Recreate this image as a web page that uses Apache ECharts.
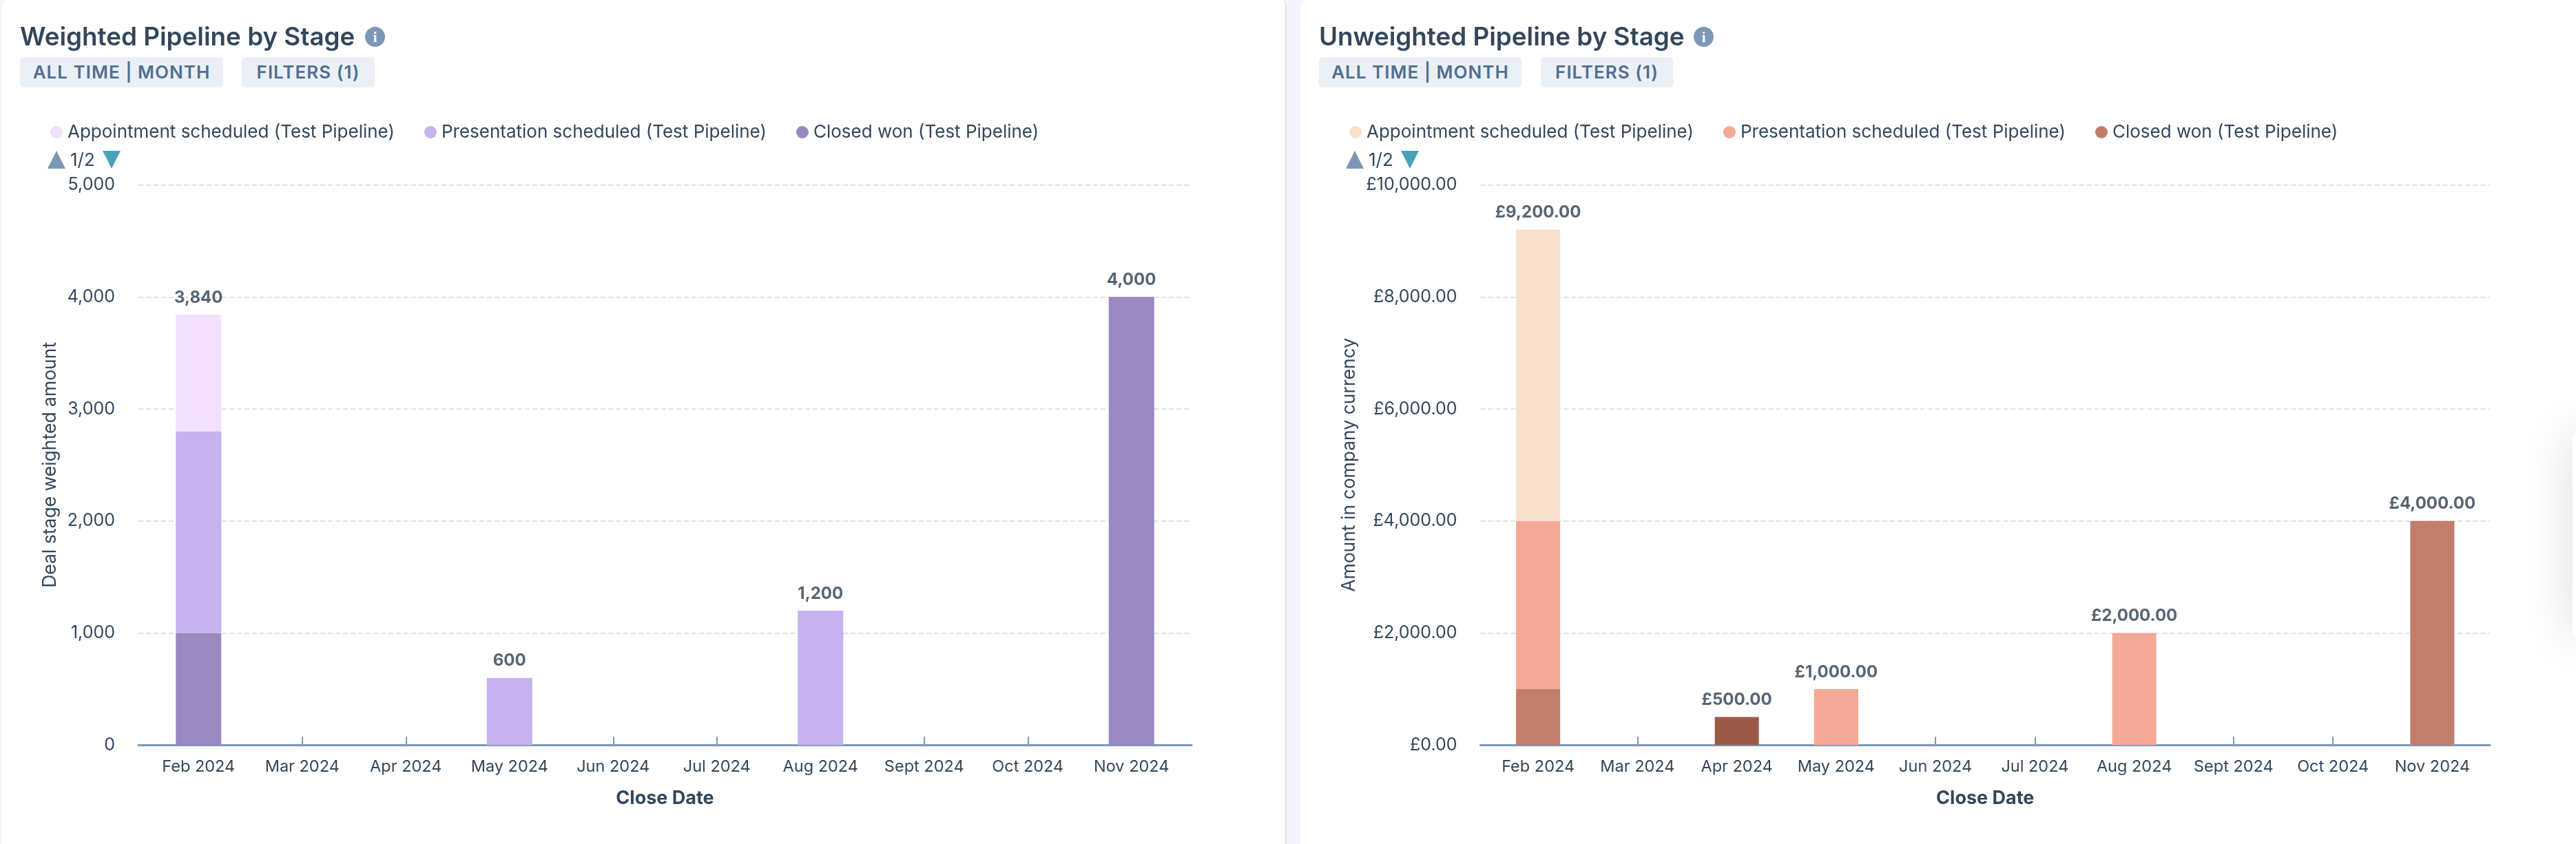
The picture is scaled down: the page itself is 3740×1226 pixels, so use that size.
<!DOCTYPE html>
<html>
<head>
<meta charset="utf-8">
<title>Pipeline by Stage</title>
<script src="https://cdn.jsdelivr.net/npm/echarts@6/dist/echarts.min.js"></script>
<style>
    html, body { margin: 0; padding: 0; background: #f4f5fa; overflow: hidden; }
    body { width: 3740px; height: 1226px; position: relative; font-family: Inter, sans-serif; color: #33475b; }
    .panel { position: absolute; top: 0; height: 1226px; background: #fff; overflow: hidden; }
    .panel-left { left: 3px; width: 1863px; border-right: 2px solid #dfe1ee; border-radius: 8px 8px 0 0; }
    .panel-right { left: 1888px; width: 1852px; border-radius: 8px 0 0 0; }
    .chart { position: absolute; left: 0; top: 0; width: 100%; height: 100%; }
    .title { position: absolute; top: 30px; font-size: 36.8px; line-height: 46px; font-weight: 600; white-space: nowrap; }
    .info { position: absolute; top: 39px; width: 29px; height: 29px; border-radius: 50%; background: #7c98b6; color: #fff; font: 700 22px/29px "Liberation Serif", serif; text-align: center; }
    .chip { position: absolute; top: 83px; height: 44px; line-height: 44px; background: #eaf0f6; border-radius: 5px; color: #516f90; font-size: 26px; font-weight: 600; letter-spacing: 1px; text-align: center; white-space: nowrap; }
    .nav { position: absolute; top: 219px; height: 27px; }
    .tri { position: absolute; top: 0; width: 0; height: 0; border-left: 13px solid transparent; border-right: 13px solid transparent; }
    .tri.up { border-bottom: 26px solid #7c98b6; }
    .tri.down { border-top: 26px solid #48a3b9; }
    .nav span { position: absolute; top: -3px; left: 33px; font-size: 26px; line-height: 32px; }
    .popup { position: absolute; left: 3735px; top: 628px; width: 40px; height: 298px; background: #fff; border-radius: 8px; box-shadow: 0 0 70px rgba(0,0,0,0.16); }
</style>
</head>
<body>
<script>
    // 月份类目
    const months = ['Feb 2024', 'Mar 2024', 'Apr 2024', 'May 2024', 'Jun 2024', 'Jul 2024', 'Aug 2024', 'Sept 2024', 'Oct 2024', 'Nov 2024'];

    const appointmentName = 'Appointment scheduled (Test Pipeline)';
    const presentationName = 'Presentation scheduled (Test Pipeline)';
    const closedWonName = 'Closed won (Test Pipeline)';
    const legendNames = [appointmentName, presentationName, closedWonName];

    // Weighted
    const weightedAppointment = [1040, null, null, null, null, null, null, null, null, null];
    const weightedPresentation = [1800, null, null, 600, null, null, 1200, null, null, null];
    const weightedClosedWon = [1000, null, null, null, null, null, null, null, null, 4000];
    const weightedTotals = [3840, null, null, 600, null, null, 1200, null, null, 4000];
    const weightedTicks = [0, 1000, 2000, 3000, 4000, 5000];

    // Unweighted
    const unweightedAppointment = [5200, null, null, null, null, null, null, null, null, null];
    const unweightedPresentation = [3000, null, null, 1000, null, null, 2000, null, null, null];
    const unweightedClosedWon = [1000, null, null, null, null, null, null, null, null, 4000];
    const unweightedOtherStage = [null, null, 500, null, null, null, null, null, null, null];
    const unweightedTotals = [9200, null, 500, 1000, null, null, 2000, null, null, 4000];
    const unweightedTicks = [0, 2000, 4000, 6000, 8000, 10000];

    const FONT = 'Inter, sans-serif';
    const TEXT = '#33475b';

    function addDiv(parent, className, left, width, text) {
        const el = document.createElement('div');
        el.className = className;
        el.style.left = left + 'px';
        if (width) el.style.width = width + 'px';
        if (text) el.textContent = text;
        parent.appendChild(el);
        return el;
    }

    function buildPanel(cfg) {
        const panel = document.createElement('div');
        panel.className = 'panel ' + cfg.panelClass;
        document.body.appendChild(panel);

        const chartDiv = addDiv(panel, 'chart', 0);

        // 标题和筛选标签
        addDiv(panel, 'title', cfg.titleX, 0, cfg.title);
        addDiv(panel, 'info', cfg.infoX, 0, 'i');
        addDiv(panel, 'chip', cfg.chipX[0], cfg.chipW[0], 'ALL TIME | MONTH');
        addDiv(panel, 'chip', cfg.chipX[1], cfg.chipW[1], 'FILTERS (1)');

        // 图例翻页
        const nav = addDiv(panel, 'nav', cfg.navX);
        addDiv(nav, 'tri up', 0);
        const pageText = document.createElement('span');
        pageText.textContent = '1/2';
        nav.appendChild(pageText);
        addDiv(nav, 'tri down', 80);

        const chart = echarts.init(chartDiv, null, { renderer: 'canvas' });

        const barSeries = cfg.bars.map(b => ({
            name: b.name,
            type: 'bar',
            stack: 'total',
            xAxisIndex: 1,
            yAxisIndex: 1,
            barWidth: cfg.barWidth,
            data: b.values,
            itemStyle: { color: b.color },
            emphasis: { disabled: true },
            z: 2
        }));

        const yMin = cfg.ticks[0];
        const yMax = cfg.ticks[cfg.ticks.length - 1];

        chart.setOption({
            animation: false,
            textStyle: { fontFamily: FONT, color: TEXT },
            legend: {
                left: cfg.legendX,
                top: 174,
                data: legendNames,
                icon: 'circle',
                itemWidth: 18,
                itemHeight: 18,
                itemGap: cfg.legendGap,
                selectedMode: false,
                textStyle: { fontFamily: FONT, fontSize: 26, color: TEXT, padding: [0, 0, 0, 2] }
            },
            // 外层 grid 画网格线和轴线，内层 grid 画柱子和类目（两端各留一点空）
            grid: [
                { left: cfg.gridLeft, top: 268.5, width: cfg.gridWidth, height: 813.8 },
                { left: cfg.gridLeft + cfg.bandPad, top: 268.5, width: cfg.gridWidth - 2 * cfg.bandPad, height: 813.8 }
            ],
            xAxis: [
                {
                    gridIndex: 0,
                    type: 'value',
                    min: 0,
                    max: 1,
                    splitLine: { show: false },
                    axisTick: { show: false },
                    axisLabel: { show: false },
                    axisLine: { show: true, onZero: false, lineStyle: { color: '#7c98b6', width: 3 } }
                },
                {
                    gridIndex: 1,
                    type: 'category',
                    data: months,
                    name: 'Close Date',
                    nameLocation: 'middle',
                    nameGap: 64,
                    nameTextStyle: { fontFamily: FONT, fontSize: 27, fontWeight: 700, color: TEXT },
                    axisLine: { show: false },
                    axisTick: {
                        show: true,
                        inside: true,
                        alignWithLabel: true,
                        interval: 0,
                        length: 12,
                        lineStyle: { color: '#7c98b6', width: 2 }
                    },
                    axisLabel: { interval: 0, margin: 20, fontFamily: FONT, fontSize: 23.5, color: TEXT }
                }
            ],
            yAxis: [
                {
                    gridIndex: 0,
                    type: 'value',
                    min: yMin,
                    max: yMax,
                    interval: cfg.ticks[1] - cfg.ticks[0],
                    name: cfg.yName,
                    nameLocation: 'middle',
                    nameGap: cfg.yNameGap,
                    nameTextStyle: { fontFamily: FONT, fontSize: 26.5, color: TEXT },
                    axisLine: { show: false },
                    axisTick: { show: false },
                    axisLabel: { margin: 34, fontFamily: FONT, fontSize: 25, color: TEXT, formatter: cfg.format },
                    splitLine: { show: true, lineStyle: { color: '#dfe3eb', width: 2, type: [7, 4] } }
                },
                {
                    gridIndex: 1,
                    type: 'value',
                    min: yMin,
                    max: yMax,
                    show: false
                }
            ],
            series: barSeries.concat([{
                name: 'Total',
                type: 'scatter',
                xAxisIndex: 1,
                yAxisIndex: 1,
                data: cfg.totals.map((v, i) => [i, v]),
                symbolSize: 1,
                itemStyle: { color: 'rgba(0,0,0,0)' },
                z: 3,
                label: {
                    show: true,
                    position: 'top',
                    distance: 12,
                    fontFamily: FONT,
                    fontSize: 24,
                    fontWeight: 700,
                    color: '#2d3e50',
                    formatter: p => cfg.format(p.value[1])
                }
            }])
        });
    }

    buildPanel({
        panelClass: 'panel-left',
        title: 'Weighted Pipeline by Stage',
        titleX: 26, infoX: 527,
        chipX: [26, 348], chipW: [295, 193],
        navX: 66,
        legendX: 65, legendGap: 43,
        gridLeft: 198, gridWidth: 1529, bandPad: 12,
        barWidth: 66,
        yName: 'Deal stage weighted amount',
        yNameGap: 113,
        ticks: weightedTicks,
        totals: weightedTotals,
        format: v => v.toLocaleString('en-GB'),
        bars: [
            { name: closedWonName, values: weightedClosedWon, color: '#9a88c0' },
            { name: presentationName, values: weightedPresentation, color: '#c6b2ee' },
            { name: appointmentName, values: weightedAppointment, color: '#f2e0fc' }
        ]
    });

    buildPanel({
        panelClass: 'panel-right',
        title: 'Unweighted Pipeline by Stage',
        titleX: 27, infoX: 571,
        chipX: [27, 349], chipW: [294, 192],
        navX: 66,
        legendX: 66, legendGap: 43,
        gridLeft: 261.5, gridWidth: 1465.5, bandPad: 11.5,
        barWidth: 64,
        yName: 'Amount in company currency',
        yNameGap: 174,
        ticks: unweightedTicks,
        totals: unweightedTotals,
        format: v => '£' + v.toLocaleString('en-GB', { minimumFractionDigits: 2, maximumFractionDigits: 2 }),
        bars: [
            { name: closedWonName, values: unweightedClosedWon, color: '#c17e6b' },
            { name: 'Other stage', values: unweightedOtherStage, color: '#9c5b49' },
            { name: presentationName, values: unweightedPresentation, color: '#f4a996' },
            { name: appointmentName, values: unweightedAppointment, color: '#f9dfce' }
        ]
    });

    addDiv(document.body, 'popup', 3735);
</script>
</body>
</html>
